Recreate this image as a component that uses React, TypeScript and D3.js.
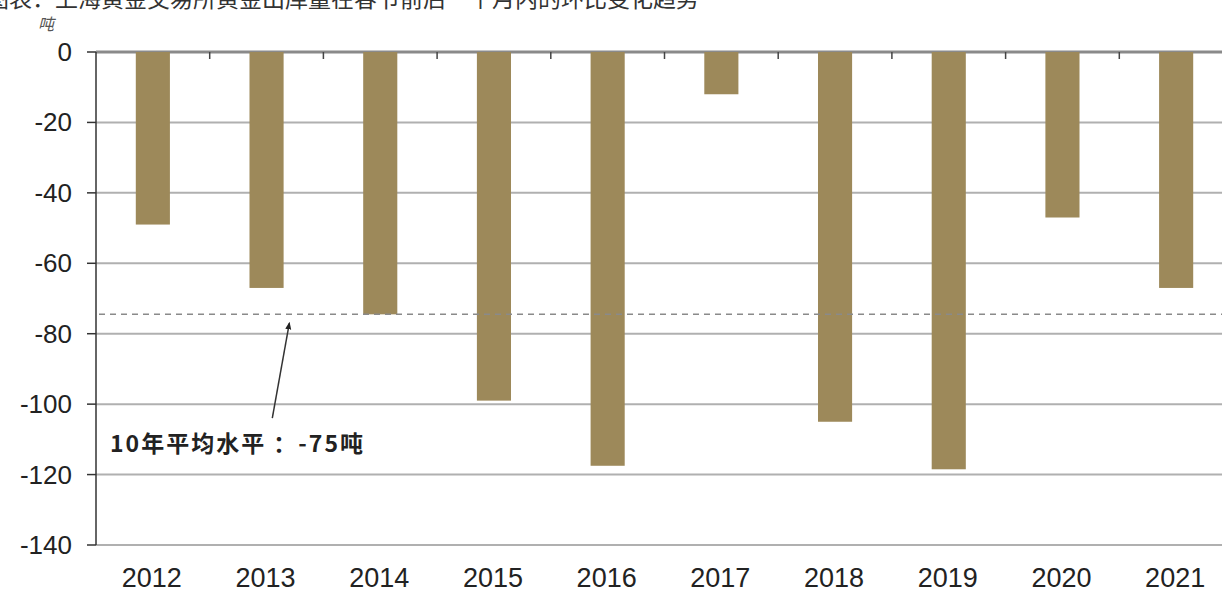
import React from "react";
import * as d3 from "d3";

const years = ["2012", "2013", "2014", "2015", "2016", "2017", "2018", "2019", "2020", "2021"];
const values = [-49, -67, -74.5, -99, -117.5, -12, -105, -118.5, -47, -67];
const yTicks = [0, -20, -40, -60, -80, -100, -120, -140];
const avgValue = -74.5;
const avgLabel = "10年平均水平 ：-75吨";
const unitLabel = "吨";
const titleText = "图表：上海黄金交易所黄金出库量在春节前后一个月内的环比变化趋势";

const W = 1222;
const H = 590;
const left = 96;
const right = 1233;
const top = 52;
const bottom = 545;

export default function App() {
  const x = d3.scaleBand<string>().domain(years).range([left, right]).paddingInner(0.7).paddingOuter(0.35);
  const xb = d3.scaleBand<string>().domain(years).range([left, right]);
  const y = d3.scaleLinear().domain([0, -140]).range([top, bottom]);
  const font = "Arial, 'Liberation Sans', sans-serif";
  const cjk = "'Noto Sans CJK SC', sans-serif";
  const tipX = xb("2013")! + xb.bandwidth() * 0.7;
  return (
    <svg width={W} height={H} style={{ position: "absolute", left: 0, top: 0, background: "#fff" }}>
      <defs>
        <marker id="arr" viewBox="0 0 10 10" refX="8" refY="5" markerWidth="5" markerHeight="5" orient="auto">
          <path d="M0,1 L10,5 L0,9 z" fill="#222" />
        </marker>
      </defs>
      <text x={-14} y={7} fontFamily={cjk} fontSize={23} fill="#333">{titleText}</text>
      <text x={38} y={30} fontFamily={cjk} fontSize={16} fill="#555" fontStyle="italic">{unitLabel}</text>
      {yTicks.map((t) => (
        <g key={t}>
          <line x1={left} x2={W} y1={y(t)} y2={y(t)} stroke={t === 0 ? "#8a8a8a" : "#b0b0b0"} strokeWidth={t === 0 ? 3 : 2} />
          <line x1={left - 9} x2={left} y1={y(t)} y2={y(t)} stroke="#333" strokeWidth={1.5} />
          <text x={72} y={y(t) + 9} textAnchor="end" fontFamily={font} fontSize={26} fill="#222">{t}</text>
        </g>
      ))}
      {years.slice(1).map((yr) => (
        <line key={yr} x1={xb(yr)!} x2={xb(yr)!} y1={y(0)} y2={y(0) + 7} stroke="#444" strokeWidth={1.5} />
      ))}
      {years.map((yr, i) => (
        <rect key={yr} x={x(yr)!} y={y(0)} width={x.bandwidth()} height={y(values[i]) - y(0)} fill="#9d895a" />
      ))}
      <line x1={left} x2={left} y1={y(0)} y2={y(-140)} stroke="#333" strokeWidth={1.5} />
      <line x1={left + 3} x2={W} y1={y(avgValue)} y2={y(avgValue)} stroke="#8a8a8a" strokeWidth={1.5} strokeDasharray="6,5" />
      {years.map((yr) => (
        <text key={yr} x={xb(yr)! + xb.bandwidth() / 2 - 1} y={587} textAnchor="middle" fontFamily={font} fontSize={27} fill="#222">{yr}</text>
      ))}
      <line x1={tipX - 17} x2={tipX} y1={y(-104)} y2={y(avgValue) + 9} stroke="#333" strokeWidth={1.5} markerEnd="url(#arr)" />
      <text x={110} y={452} fontFamily={cjk} fontSize={23} fontWeight="bold" letterSpacing={2} fill="#222">{avgLabel}</text>
    </svg>
  );
}
